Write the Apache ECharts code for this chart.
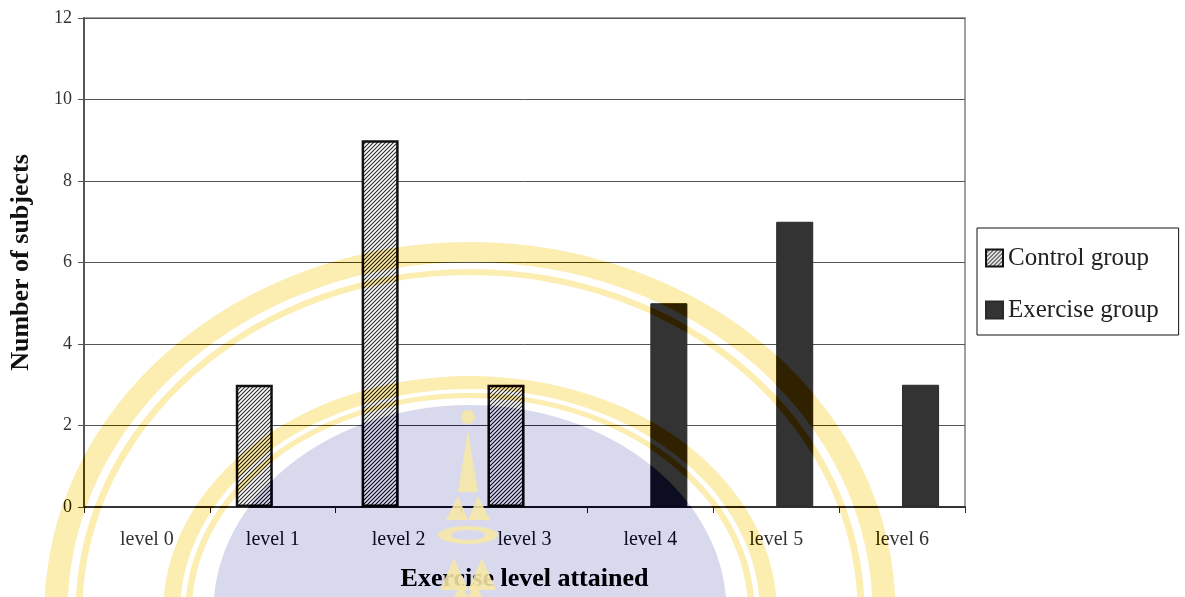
<!DOCTYPE html>
<html>
<head>
<meta charset="utf-8">
<script src="https://cdn.jsdelivr.net/npm/echarts@6/dist/echarts.min.js"></script>
<style>
  html, body { margin: 0; padding: 0; background: #fff; }
  #chart { width: 1185px; height: 597px; }
</style>
</head>
<body>
<div id="chart"></div>
<script>
// Number of subjects per exercise level reached, by group
const categories = ['level 0', 'level 1', 'level 2', 'level 3', 'level 4', 'level 5', 'level 6'];
const controlGroup = [0, 3, 9, 3, 0, 0, 0];
const exerciseGroup = [0, 0, 0, 0, 5, 7, 3];
const yMin = 0;
const yMax = 12;
const yStep = 2;

const W = 1185, H = 597;
const SERIF = '"Liberation Serif", "Times New Roman", serif';

// Diagonal hatch fill for the control bars
function makeHatch() {
  const c = document.createElement('canvas');
  c.width = 4; c.height = 4;
  const g = c.getContext('2d');
  g.fillStyle = '#ffffff';
  g.fillRect(0, 0, 4, 4);
  g.strokeStyle = '#2a2a2a';
  g.lineWidth = 1.1;
  g.beginPath();
  g.moveTo(0, 4); g.lineTo(4, 0);
  g.moveTo(-1, 1); g.lineTo(1, -1);
  g.moveTo(3, 5); g.lineTo(5, 3);
  g.stroke();
  return { image: c, repeat: 'repeat' };
}

// Zero counts get no outline so they leave no stub on the axis
function barData(values) {
  return values.map(v => (v === 0 ? { value: v, itemStyle: { borderWidth: 0 } } : v));
}

// University seal burned into the page: invert, add the inverted tint, invert back
// (a linear-burn, so the tint darkens bars as well as the white paper).
const SX = 470, SY = 612;
const LAV_INV = '#272613';   // inverse of #d8d9ec
const GOLD_INV = '#03124f';  // inverse of #fcedb0
const GOLD_SOLID = '#f7e7a6';

function tintRing(r0, r, scaleX) {
  return { type: 'group', x: SX, y: SY, scaleX: scaleX, silent: true,
    children: [{ type: 'ring', silent: true, z: 101,
      shape: { cx: 0, cy: 0, r: r, r0: r0 },
      style: { fill: GOLD_INV, blend: 'lighter' } }] };
}
function poly(points) {
  return { type: 'polygon', silent: true, z: 103,
    shape: { points: points },
    style: { fill: GOLD_SOLID, opacity: 0.88 } };
}
const invertRect = z => ({ type: 'rect', silent: true, z: z,
  shape: { x: 0, y: 0, width: W, height: H },
  style: { fill: '#ffffff', blend: 'difference' } });

const seal = [
  invertRect(100),
  { type: 'group', x: SX, y: SY, scaleX: 1.24, silent: true,
    children: [{ type: 'circle', silent: true, z: 101,
      shape: { cx: 0, cy: 0, r: 207 },
      style: { fill: LAV_INV, blend: 'lighter' } }] },
  tintRing(214, 219, 1.3),
  tintRing(223, 236, 1.3),
  tintRing(337, 343, 1.15),
  tintRing(350, 370, 1.15),
  invertRect(102),
  // spire emblem
  { type: 'circle', silent: true, z: 103,
    shape: { cx: 468, cy: 417, r: 7 },
    style: { fill: GOLD_SOLID, opacity: 0.88 } },
  poly([[468, 430], [458, 492], [478, 492]]),
  poly([[446, 520], [458, 496], [468, 520]]),
  poly([[468, 520], [478, 496], [490, 520]]),
  { type: 'group', silent: true, x: 468, y: 535, scaleY: 0.3,
    children: [{ type: 'ring', silent: true, z: 103,
      shape: { cx: 0, cy: 0, r: 30, r0: 17 },
      style: { fill: GOLD_SOLID, opacity: 0.88 } }] },
  poly([[440, 590], [454, 558], [468, 590]]),
  poly([[468, 590], [482, 558], [496, 590]]),
  poly([[454, 597], [461, 582], [468, 597]]),
  poly([[468, 597], [475, 582], [482, 597]])
];

const chart = echarts.init(document.getElementById('chart'), null, { renderer: 'canvas' });

chart.setOption({
  backgroundColor: '#ffffff',
  animation: false,
  grid: {
    left: 84, right: 220, top: 18, bottom: 85,
    show: true, borderColor: '#a0a0a0', borderWidth: 2, backgroundColor: 'transparent'
  },
  legend: {
    orient: 'vertical',
    left: 977, top: 228,
    padding: [15, 20, 10, 8],
    itemGap: 22,
    itemWidth: 17, itemHeight: 17,
    icon: 'rect',
    borderColor: '#111', borderWidth: 1,
    backgroundColor: '#ffffff',
    textStyle: { fontFamily: SERIF, fontSize: 25, color: '#222', lineHeight: 30 },
    data: ['Control group', 'Exercise group']
  },
  xAxis: {
    type: 'category',
    data: categories,
    boundaryGap: true,
    name: 'Exercise level attained',
    nameLocation: 'middle',
    nameGap: 59,
    nameTextStyle: { fontFamily: SERIF, fontSize: 26, fontWeight: 'bold', color: '#111' },
    axisLine: { show: true, lineStyle: { color: '#333', width: 2 } },
    axisTick: { show: true, length: 6, interval: 0, lineStyle: { color: '#333', width: 1 } },
    axisLabel: { fontFamily: SERIF, fontSize: 20, color: '#333', margin: 23, interval: 0 },
    splitLine: { show: false }
  },
  yAxis: {
    type: 'value',
    min: yMin, max: yMax, interval: yStep,
    name: 'Number of subjects',
    nameLocation: 'middle',
    nameGap: 50,
    nameRotate: 90,
    nameTextStyle: { fontFamily: SERIF, fontSize: 26, fontWeight: 'bold', color: '#111' },
    axisLine: { show: true, lineStyle: { color: '#555', width: 2 } },
    axisTick: { show: true, length: 6, lineStyle: { color: '#555', width: 1 } },
    axisLabel: { fontFamily: SERIF, fontSize: 18, color: '#333', margin: 12 },
    splitLine: { show: true, lineStyle: { color: '#555', width: 1 } }
  },
  series: [
    {
      name: 'Control group',
      type: 'bar',
      data: barData(controlGroup),
      barWidth: 37,
      barGap: '0%',
      itemStyle: { color: makeHatch(), borderColor: '#111', borderWidth: 2.5 }
    },
    {
      name: 'Exercise group',
      type: 'bar',
      data: barData(exerciseGroup),
      barWidth: 37,
      barGap: '0%',
      itemStyle: { color: '#333333', borderColor: '#2a2a2a', borderWidth: 1 }
    }
  ],
  graphic: seal
});
</script>
</body>
</html>
